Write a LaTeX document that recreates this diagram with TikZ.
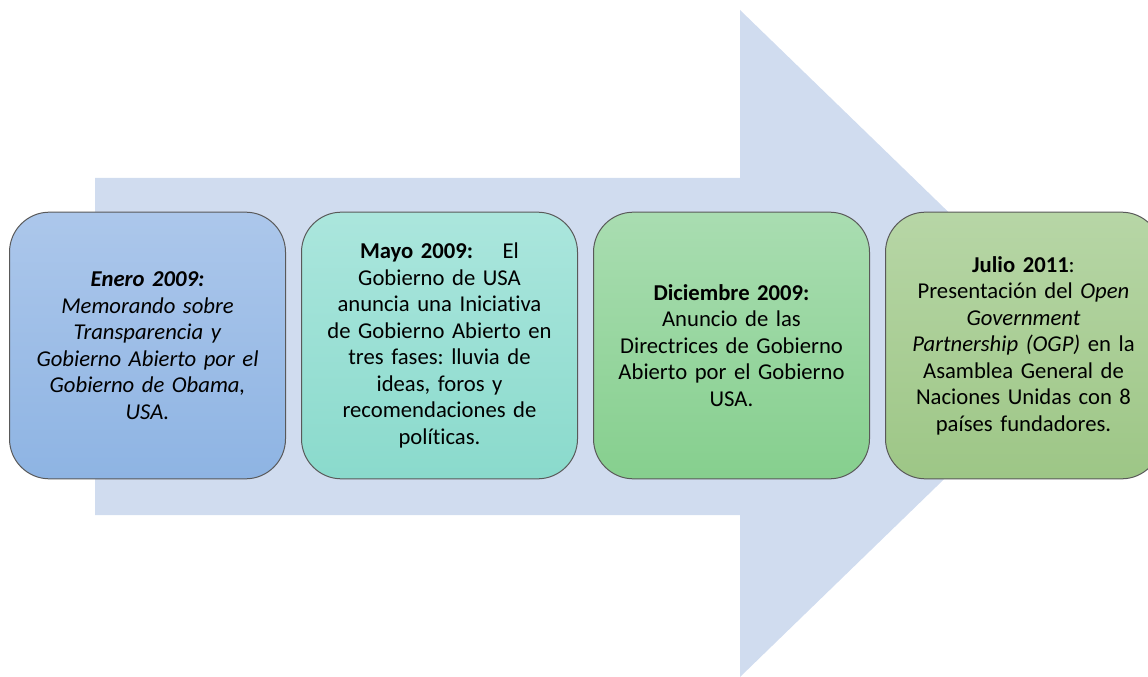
\documentclass[tikz,border=0pt]{standalone}
\usepackage{fontspec}
\setmainfont[Ligatures={NoCommon}]{Carlito}
\usepackage{tikz}
\usetikzlibrary{positioning}
\definecolor{arrowblue}{RGB}{208,220,239}
\definecolor{eneroTop}{RGB}{172,199,235}
\definecolor{eneroBot}{RGB}{142,180,227}
\definecolor{mayoTop}{RGB}{171,230,221}
\definecolor{mayoBot}{RGB}{138,218,204}
\definecolor{dicTop}{RGB}{169,221,177}
\definecolor{dicBot}{RGB}{134,207,142}
\definecolor{julioTop}{RGB}{183,214,166}
\definecolor{julioBot}{RGB}{157,198,134}
\tikzstyle{event}=[draw=black!65, line width=0.75pt, rounded corners=30pt, minimum width=207pt, minimum height=200pt, text width=190pt, align=center, inner sep=0pt, font=\fontsize{17}{19.9}\selectfont\frenchspacing]

\begin{document}
\begin{tikzpicture}[x=0.75pt, y=-0.75pt]
    \useasboundingbox (0,0) rectangle (1148,677);
    \clip (0,0) rectangle (1148,677);
    % big arrow behind the boxes
    \fill[arrowblue] (95,178) -- (740,178) -- (740,10) -- (1084,343.5) -- (740,677) -- (740,515) -- (95,515) -- cycle;
    \node[event, top color=eneroTop, bottom color=eneroBot] (enero) at (147.5,345.5)
        {\textit{\textbf{Enero 2009:}}\\ \textit{Memorando sobre}\\ \textit{Transparencia y}\\ \textit{Gobierno Abierto por el}\\ \textit{Gobierno de Obama,}\\ \textit{USA.}};
    \node[event, top color=mayoTop, bottom color=mayoBot, right=11.25pt of enero] (mayo)
        {\textbf{Mayo 2009:}\hspace{1.3em}El\\ Gobierno de USA\\ anuncia una Iniciativa\\ de Gobierno Abierto en\\ tres fases: lluvia de\\ ideas, foros y\\ recomendaciones de\\ políticas.};
    \node[event, top color=dicTop, bottom color=dicBot, right=11.25pt of mayo] (diciembre)
        {\textbf{Diciembre 2009:}\\ Anuncio de las\\ Directrices de Gobierno\\ Abierto por el Gobierno\\ USA.};
    \node[event, top color=julioTop, bottom color=julioBot, right=11.25pt of diciembre] (julio)
        {\textbf{Julio 2011}:\\ Presentación del \textit{Open}\\ \textit{Government}\\ \textit{Partnership (OGP)} en la\\ Asamblea General de\\ Naciones Unidas con 8\\ países fundadores.};
\end{tikzpicture}
\end{document}
